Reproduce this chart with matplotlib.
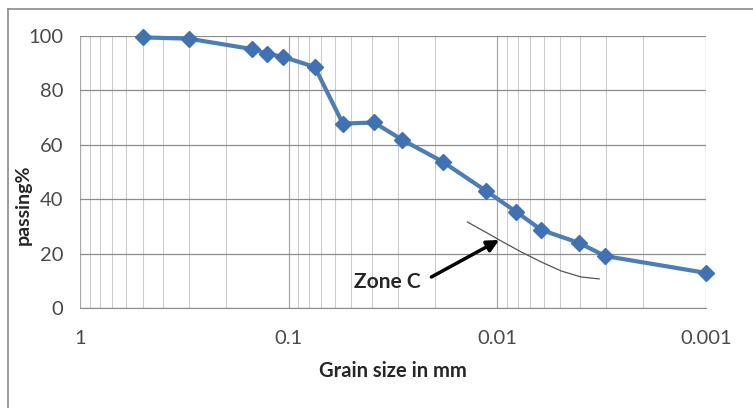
import numpy as np
import matplotlib.pyplot as plt
import matplotlib as mpl
from matplotlib.lines import Line2D

# grain size distribution
grain_mm = [0.5, 0.3, 0.15, 0.127, 0.106, 0.075, 0.055, 0.039, 0.0285,
            0.0183, 0.0113, 0.0081, 0.00615, 0.00405, 0.00304, 0.001]
passing = [99.5, 99.0, 95.2, 93.5, 92.3, 88.6, 67.8, 68.2, 61.8,
           53.8, 43.0, 35.3, 28.7, 23.9, 19.1, 12.9]

# thin "Zone C" boundary curve
zone_x = [0.0139, 0.0112, 0.00957, 0.00768, 0.00615, 0.00494, 0.00397, 0.00325]
zone_y = [31.6, 27.6, 24.6, 20.6, 16.9, 13.6, 11.4, 10.7]

xticks = [1, 0.1, 0.01, 0.001]
xticklabels = ['1', '0.1', '0.01', '0.001']
yticks = [0, 20, 40, 60, 80, 100]

plt.rcParams['font.family'] = ['Lato', 'DejaVu Sans']
txt = '#4a4a4a'

fig = plt.figure(figsize=(7.53, 4.08), dpi=100)
ax = fig.add_axes([80/753, 1-308/408, 626/753, 272/408])

ax.set_xscale('log')
ax.set_xlim(1, 0.001)
ax.set_ylim(0, 100)
ax.set_xticks(xticks)
ax.set_xticklabels(xticklabels)
ax.set_yticks(yticks)
ax.xaxis.set_minor_locator(mpl.ticker.LogLocator(base=10, subs=np.arange(2, 10)))
ax.xaxis.set_minor_formatter(mpl.ticker.NullFormatter())

ax.grid(True, which='major', axis='y', color='#8c8c8c', lw=0.9)
ax.grid(True, which='major', axis='x', color='#a8a8a8', lw=0.9)
ax.grid(True, which='minor', axis='x', color='#cccccc', lw=0.8)
ax.set_axisbelow(True)
ax.tick_params(which='both', length=0, labelsize=14.5, labelcolor=txt)
ax.tick_params(axis='x', pad=16)
ax.tick_params(axis='y', pad=12)
for s in ax.spines.values():
    s.set_visible(False)
ax.spines['bottom'].set_visible(True)
ax.spines['bottom'].set_color('#8c8c8c')

ax.plot(grain_mm, passing, '-', color='#4A7EBB', lw=3, marker='D',
        markersize=8, markerfacecolor='#3F72B5', markeredgecolor='#3F72B5',
        zorder=3, clip_on=False)
ax.plot(zone_x, zone_y, '-', color='#555555', lw=0.9, zorder=2)

ax.text(0.0336, 9.6, 'Zone C', fontsize=15, fontweight='bold', color='#262626',
        ha='center', va='center')
ax.annotate('', xy=(0.0098, 25.0), xytext=(0.0207, 11.4),
            arrowprops=dict(arrowstyle='-|>,head_length=0.7,head_width=0.35',
                            color='black', lw=2.5, shrinkA=0, shrinkB=0))

ax.set_xlabel('Grain size in mm', fontsize=14.5, fontweight='bold', color='#262626', labelpad=10)
ax.set_ylabel('passing%', fontsize=14, fontweight='bold', color='#262626')
ax.yaxis.set_label_coords(-0.077, 0.38)

# outer chart border (top and left)
fig.add_artist(Line2D([8/753, 1], [1-9/408, 1-9/408], color='#8a8a8a', lw=1.2))
fig.add_artist(Line2D([8/753, 8/753], [0, 1-9/408], color='#8a8a8a', lw=1.2))

plt.savefig('out.png', dpi=100)
